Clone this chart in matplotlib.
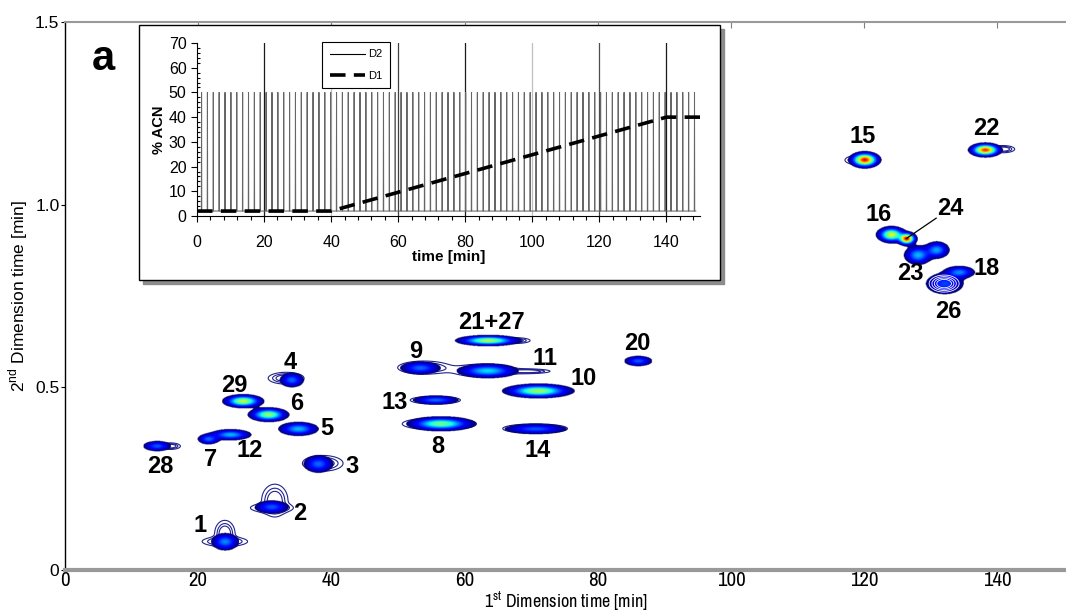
import numpy as np
import matplotlib
matplotlib.use("Agg")
import matplotlib.pyplot as plt
from matplotlib import font_manager
from matplotlib.patches import Rectangle
from matplotlib.ticker import MultipleLocator
from matplotlib.colors import PowerNorm

plt.rcParams['font.family'] = ['Liberation Sans', 'DejaVu Sans']

# narrow font for the x axis (Arial Narrow look), if one is installed
narrow_family = 'Liberation Sans'
narrow_scale = 0.86
for f in font_manager.fontManager.ttflist:
    if 'Narrow' in f.name or 'Condensed' in f.name:
        narrow_family = f.name
        narrow_scale = 1.0
        break
plt.rcParams['mathtext.fontset'] = 'custom'
plt.rcParams['mathtext.sf'] = 'Liberation Sans'
plt.rcParams['mathtext.rm'] = narrow_family

# ---- peaks (1st dim min, 2nd dim min, widths, relative height) ----
peak_id = ['28', '7', '12', '29', '6', '4', '5', '3', '2', '1',
           '21+27', '9', '11', '10', '20', '13', '8', '14',
           '15', '22', '16', '24', '23a', '23b', '18', '26']
peak_x = [13.8, 21.5, 24.8, 26.7, 30.5, 34.0, 35.0, 38.0, 31.0, 24.0,
          63.5, 53.3, 63.4, 71.0, 86.0, 55.6, 56.4, 70.6,
          120.0, 138.1, 124.0, 126.3, 128.0, 130.8, 134.2, 132.0]
peak_y = [0.339, 0.358, 0.370, 0.462, 0.425, 0.520, 0.386, 0.290, 0.172, 0.077,
          0.628, 0.553, 0.545, 0.490, 0.572, 0.465, 0.400, 0.386,
          1.123, 1.150, 0.918, 0.907, 0.862, 0.876, 0.815, 0.784]
peak_wx = [1.05, 0.80, 1.45, 1.30, 1.30, 0.90, 1.40, 1.10, 1.28, 1.00,
           2.05, 1.50, 2.10, 2.25, 1.05, 1.70, 2.20, 2.35,
           0.95, 1.00, 0.95, 0.62, 0.98, 0.90, 1.12, 1.45]
peak_wy = [0.0072, 0.0072, 0.0072, 0.0080, 0.0085, 0.0100, 0.0090, 0.0120, 0.0092, 0.0115,
           0.0065, 0.0090, 0.0092, 0.0085, 0.0072, 0.0062, 0.0087, 0.0072,
           0.0092, 0.0080, 0.0098, 0.0078, 0.0125, 0.0112, 0.0085, 0.0150]
peak_h = [0.22, 0.24, 0.32, 0.62, 0.56, 0.24, 0.32, 0.24, 0.22, 0.27,
          0.60, 0.24, 0.36, 0.58, 0.22, 0.24, 0.52, 0.22,
          1.00, 0.95, 0.66, 1.00, 0.32, 0.30, 0.27, 0.20]

# weak tailing seen only as contour outlines
tail_x = [15.8, 26.3, 33.2, 38.7, 31.0, 31.5, 24.0, 24.0, 67.5, 53.9,
          63.0, 69.5, 55.6, 56.2, 70.6, 119.0, 140.8]
tail_y = [0.339, 0.371, 0.525, 0.292, 0.170, 0.190, 0.078, 0.100, 0.628, 0.554,
          0.546, 0.544, 0.465, 0.400, 0.387, 1.122, 1.152]
tail_wx = [0.85, 0.85, 1.50, 1.70, 1.75, 1.10, 1.90, 0.85, 1.30, 2.20,
           2.70, 1.85, 2.10, 3.10, 2.70, 1.05, 1.00]
tail_wy = [0.0050, 0.0045, 0.0090, 0.0120, 0.0070, 0.0250, 0.0075, 0.0200, 0.0045, 0.0100,
           0.0100, 0.0035, 0.0060, 0.0095, 0.0072, 0.0070, 0.0055]
tail_h = [0.02] * len(tail_x)

# peak labels
label_text = ['1', '2', '3', '4', '5', '6', '7', '12', '28', '29', '8', '9', '10', '11',
              '13', '14', '20', '21+27', '15', '22', '16', '24', '23', '18', '26']
label_x = [20.3, 35.3, 43.1, 33.8, 39.3, 34.8, 21.9, 27.8, 14.3, 25.4, 56.0, 52.6, 77.8, 72.1,
           49.5, 70.9, 85.9, 64.1, 119.8, 138.4, 122.1, 132.9, 126.9, 138.4, 132.6]
label_y = [0.123, 0.156, 0.284, 0.568, 0.388, 0.456, 0.303, 0.328, 0.284, 0.505, 0.339, 0.598,
           0.525, 0.579, 0.459, 0.328, 0.620, 0.678, 1.186, 1.208, 0.973, 0.989, 0.811, 0.825,
           0.708]

# ---- inset: gradient programs ----
d1_t = [0, 40, 140, 150]
d1_pct = [2, 2, 40, 40]
d2_period = 1.75
d2_cycle_t = [0.0, 1.3, 1.36, 1.42, 1.75]
d2_cycle_pct = [2, 2, 50, 2, 2]
inset_grid = [20, 40, 60, 80, 100, 120, 140]
inset_grid_col = ['0.1', '0.75', '0.25', '0.1', '0.75', '0.3', '0.1']

# ---- field ----
gx = np.linspace(0, 150, 1501)
gy = np.linspace(0, 1.5, 1501)
X, Y = np.meshgrid(gx, gy)


def field(xs, ys, wxs, wys, hs):
    Z = np.zeros_like(X)
    for x0, y0, sx, sy, h in zip(xs, ys, wxs, wys, hs):
        Z += h * np.exp(-0.5 * (((X - x0) / sx) ** 2 + ((Y - y0) / sy) ** 2))
    return Z


Z = field(peak_x, peak_y, peak_wx, peak_wy, peak_h)
Zt = field(tail_x, tail_y, tail_wx, tail_wy, tail_h)
thr = 0.03

fig = plt.figure(figsize=(10.66, 6.12), dpi=100)
ax = fig.add_axes([65 / 1066, 1 - 570 / 612, 1001 / 1066, 548 / 612])

ax.contour(X, Y, Zt, levels=[0.004, 0.008, 0.012], colors='#23238f',
           linewidths=0.8, zorder=1)
Zm = np.ma.masked_less(Z, thr)
ax.imshow(Zm, cmap='jet', norm=PowerNorm(0.9, thr, 1.1), extent=(0, 150, 0, 1.5),
          origin='lower', aspect='auto', interpolation='bilinear', zorder=2)

# white contour lines on peak 26
i26 = peak_id.index('26')
Z26 = field([peak_x[i26]], [peak_y[i26]], [peak_wx[i26]], [peak_wy[i26]], [peak_h[i26]])
ax.contour(X, Y, Z26, levels=[0.06, 0.09, 0.12, 0.15], colors='white',
           linewidths=0.6, zorder=3)

for t, x, y in zip(label_text, label_x, label_y):
    ax.text(x, y, t, fontsize=17, fontweight='bold', ha='center', va='center', zorder=4)

i24 = peak_id.index('24')
j24 = label_text.index('24')
ax.annotate('', xy=(peak_x[i24], peak_y[i24]), xytext=(label_x[j24], label_y[j24]),
            arrowprops=dict(arrowstyle='-', lw=0.9, color='k', shrinkA=12, shrinkB=0),
            zorder=4)

ax.text(5.7, 1.40, 'a', fontsize=30, fontweight='bold', ha='center', va='center')

ax.set_xlim(0, 150.3)
ax.set_ylim(0, 1.5)
ax.set_xticks([0, 20, 40, 60, 80, 100, 120, 140])
ax.set_yticks([0, 0.5, 1.0, 1.5])
ax.set_yticklabels(['0', '0.5', '1.0', '1.5'], fontsize=12.5)
for lab in ax.get_xticklabels():
    lab.set_fontproperties(font_manager.FontProperties(family=narrow_family,
                                                       size=15 * narrow_scale))
ax.tick_params(axis='x', top=True, bottom=False, direction='in', length=4,
               color='0.5', pad=0.5)
ax.tick_params(axis='y', direction='out', length=3, pad=1)
ax.spines['right'].set_visible(False)
ax.spines['top'].set_color('0.6')
ax.spines['top'].set_linewidth(1.5)
ax.spines['bottom'].set_color('0.6')
ax.spines['bottom'].set_linewidth(3)
ax.spines['left'].set_linewidth(1)
ax.set_xlabel('1$^{\\mathrm{st}}$ Dimension time [min]', family=narrow_family,
              fontsize=13 * narrow_scale, labelpad=0.5)
ax.set_ylabel('2$^{\\mathsf{nd}}$ Dimension time [min]', fontsize=12.5, labelpad=4)

# ---- inset frame with shadow ----
fx0, fy0, fw, fh = 139 / 1066, 1 - 280 / 612, 581 / 1066, 255 / 612
fig.patches.append(Rectangle((fx0 + 4 / 1066, fy0 - 4 / 612), fw, fh,
                             transform=fig.transFigure, facecolor='0.55',
                             edgecolor='0.55', zorder=1))
fig.patches.append(Rectangle((fx0, fy0), fw, fh, transform=fig.transFigure,
                             facecolor='white', edgecolor='black', lw=1, zorder=1.5))

ins = fig.add_axes([197 / 1066, 1 - 216 / 612, 503 / 1066, 173 / 612], zorder=3)
ins.patch.set_alpha(0)
for gxv, gc in zip(inset_grid, inset_grid_col):
    ins.plot([gxv, gxv], [0, 70], color=gc, lw=0.9, zorder=1)

n_cyc = int(np.ceil(150 / d2_period))
t2 = np.concatenate([np.array(d2_cycle_t) + k * d2_period for k in range(n_cyc)])
p2 = np.tile(d2_cycle_pct, n_cyc)
keep = t2 <= 150
ins.plot(t2[keep], p2[keep], color='0.4', lw=0.75, zorder=2)
ins.plot(d1_t, d1_pct, color='black', lw=2.6, dashes=(4.3, 2.3), zorder=3)

h2, = ins.plot([], [], color='black', lw=0.8)
h1, = ins.plot([], [], color='black', lw=2.6, dashes=(4.3, 2.3))
leg = ins.legend([h2, h1], ['D2', 'D1'], loc='upper left', bbox_to_anchor=(0.237, 1.04),
                 fontsize=8, handlelength=3.2, fancybox=False, framealpha=1,
                 edgecolor='black', borderpad=0.7, labelspacing=1.0, handletextpad=0.3)
leg.get_frame().set_linewidth(0.8)

ins.set_xlim(0, 150)
ins.set_ylim(0, 70)
ins.set_xticks([0, 20, 40, 60, 80, 100, 120, 140])
ins.set_yticks(range(0, 71, 10))
ins.xaxis.set_minor_locator(MultipleLocator(4))
ins.yaxis.set_minor_locator(MultipleLocator(2))
ins.tick_params(axis='both', which='major', labelsize=11.5, length=4, direction='out', width=0.8)
ins.tick_params(axis='x', which='minor', length=3, direction='out', width=0.8)
ins.tick_params(axis='y', which='minor', length=2.5, direction='in', width=0.8)
ins.tick_params(axis='x', pad=10)
ins.spines['top'].set_visible(False)
ins.spines['right'].set_visible(False)
ins.set_xlabel('time [min]', fontsize=11, fontweight='bold', labelpad=0)
ins.set_ylabel('% ACN', fontsize=10.5, fontweight='bold', labelpad=2)

fig.savefig('out.png', dpi=100)
